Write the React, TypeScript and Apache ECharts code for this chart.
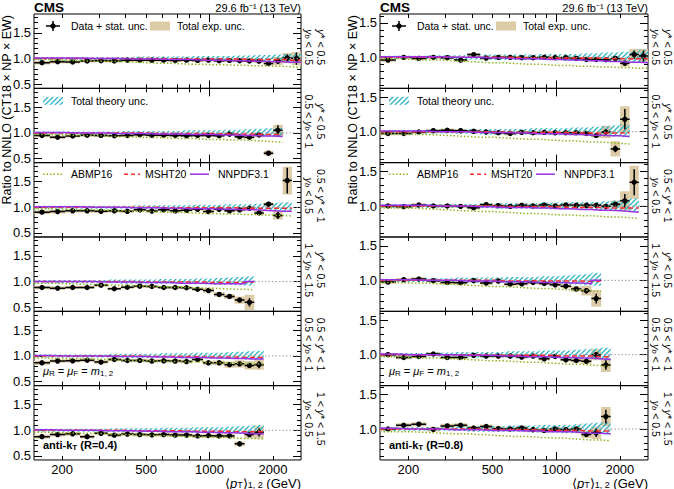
import React, { useEffect, useRef } from "react";
import * as echarts from "echarts";

// ---------------- data ----------------
const ptEdges = [147, 175, 207, 243, 284, 329, 380, 437, 499, 569, 646, 732, 827, 932, 1049, 1177, 1316, 1467, 1631, 1809, 2006, 2223, 2459, 2717];
const xTickLabels = [200, 500, 1000, 2000];
const xMajorTicks = [1000];
const xMinorTicks = [200, 300, 400, 500, 600, 700, 800, 900, 2000];
const yTickLabels = [0.5, 1.0, 1.5];
const yMinorTicks = [0.5, 0.6, 0.7, 0.8, 0.9, 1.0, 1.1, 1.2, 1.3, 1.4, 1.5, 1.6, 1.7, 1.8];
const yRangeR04 = [0.42, 1.87];
const yRangeR08 = [0.55, 1.63];
const refLevel = 1;

// panels: 0-5 anti-kT R=0.4 (left), 6-11 R=0.8 (right)
const ratio = [
  [0.92, 0.94, 0.935, 0.955, 0.96, 0.955, 0.97, 0.97, 0.97, 0.97, 0.965, 0.97, 0.965, 0.97, 0.96, 0.965, 0.96, 0.955, 0.95, 0.905, 0.95, 1.01, 1.0],
  [0.95, 0.915, 0.94, 0.955, 0.95, 0.945, 0.95, 0.965, 0.955, 0.955, 0.95, 0.945, 0.95, 0.95, 0.945, 0.975, 0.925, 0.915, 0.96, 0.605, 1.05],
  [0.905, 0.915, 0.93, 0.93, 0.92, 0.93, 0.92, 0.95, 0.925, 0.95, 0.93, 0.94, 0.96, 0.915, 0.96, 0.93, 0.95, 0.98, 0.89, 1.06, 0.84, 1.52],
  [0.885, 0.87, 0.885, 0.885, 0.93, 0.86, 0.89, 0.91, 0.905, 0.885, 0.885, 0.88, 0.85, 0.825, 0.75, 0.71, 0.64, 0.595],
  [0.865, 0.9, 0.905, 0.915, 0.88, 0.93, 0.91, 0.91, 0.9, 0.905, 0.9, 0.89, 0.93, 0.865, 0.865, 0.83, 0.845, 0.815, 0.83],
  [0.875, 0.915, 0.93, 0.875, 0.94, 0.905, 0.925, 0.915, 0.91, 0.915, 0.905, 0.905, 0.89, 0.895, 0.89, 0.89, 0.735, 0.915, 0.96],
  [0.96, 1.0, 0.985, 1.0, 0.995, 0.96, 1.04, 0.99, 1.0, 1.0, 0.995, 0.995, 1.0, 0.995, 0.995, 0.985, 0.97, 0.97, 0.965, 0.985, 0.915, 1.04, 1.02],
  [0.975, 0.975, 0.995, 1.015, 1.02, 1.015, 1.005, 0.995, 0.985, 0.975, 0.99, 0.985, 0.99, 0.985, 0.985, 0.985, 0.975, 0.945, 0.995, 0.75, 1.18],
  [1.0, 0.99, 1.015, 1.0, 1.0, 0.995, 0.975, 1.02, 1.005, 0.995, 1.01, 1.0, 1.015, 1.0, 1.015, 1.01, 1.01, 1.01, 0.995, 1.025, 1.075, 1.345],
  [0.975, 1.01, 1.02, 0.995, 0.97, 0.965, 0.995, 0.96, 0.99, 0.945, 0.95, 0.97, 0.955, 0.935, 0.915, 0.875, 0.85, 0.735],
  [1.0, 0.96, 0.975, 1.01, 0.96, 0.96, 0.99, 0.98, 0.98, 0.98, 0.965, 0.98, 0.94, 0.975, 0.925, 0.915, 0.905, 1.0, 0.85],
  [1.0, 1.055, 1.07, 0.995, 1.045, 1.055, 1.015, 1.035, 1.005, 1.0, 1.015, 0.99, 0.98, 1.0, 0.99, 1.0, 0.92, 0.945, 1.18],
];

const statUnc = [
  [0.005, 0.005, 0.005, 0.005, 0.005, 0.005, 0.005, 0.005, 0.005, 0.005, 0.005, 0.005, 0.005, 0.005, 0.006, 0.007, 0.008, 0.01, 0.012, 0.018, 0.05, 0.07, 0.12],
  [0.005, 0.005, 0.005, 0.005, 0.005, 0.005, 0.005, 0.005, 0.005, 0.005, 0.005, 0.005, 0.005, 0.006, 0.007, 0.008, 0.01, 0.012, 0.025, 0.03, 0.1],
  [0.005, 0.005, 0.005, 0.005, 0.005, 0.005, 0.005, 0.005, 0.005, 0.005, 0.005, 0.005, 0.005, 0.005, 0.005, 0.007, 0.009, 0.012, 0.015, 0.03, 0.07, 0.25],
  [0.005, 0.005, 0.005, 0.005, 0.005, 0.005, 0.005, 0.005, 0.005, 0.005, 0.005, 0.005, 0.006, 0.008, 0.012, 0.02, 0.04, 0.08],
  [0.005, 0.005, 0.005, 0.005, 0.005, 0.005, 0.005, 0.005, 0.005, 0.005, 0.005, 0.005, 0.005, 0.007, 0.01, 0.015, 0.02, 0.035, 0.07],
  [0.005, 0.005, 0.005, 0.005, 0.005, 0.005, 0.005, 0.005, 0.005, 0.005, 0.005, 0.005, 0.005, 0.007, 0.01, 0.012, 0.015, 0.04, 0.08],
  [0.005, 0.005, 0.005, 0.005, 0.005, 0.005, 0.005, 0.005, 0.005, 0.005, 0.005, 0.005, 0.005, 0.005, 0.005, 0.005, 0.005, 0.007, 0.01, 0.012, 0.03, 0.06, 0.08],
  [0.005, 0.005, 0.005, 0.005, 0.005, 0.005, 0.005, 0.005, 0.005, 0.005, 0.005, 0.005, 0.005, 0.005, 0.005, 0.007, 0.01, 0.012, 0.03, 0.05, 0.15],
  [0.005, 0.005, 0.005, 0.005, 0.005, 0.005, 0.005, 0.005, 0.005, 0.005, 0.005, 0.005, 0.005, 0.005, 0.005, 0.005, 0.007, 0.008, 0.01, 0.03, 0.1, 0.19],
  [0.005, 0.005, 0.005, 0.005, 0.005, 0.005, 0.005, 0.005, 0.005, 0.005, 0.005, 0.005, 0.006, 0.008, 0.01, 0.015, 0.04, 0.07],
  [0.005, 0.005, 0.005, 0.005, 0.005, 0.005, 0.005, 0.005, 0.005, 0.005, 0.005, 0.005, 0.005, 0.006, 0.008, 0.01, 0.015, 0.04, 0.07],
  [0.005, 0.005, 0.005, 0.005, 0.005, 0.005, 0.005, 0.005, 0.005, 0.005, 0.005, 0.005, 0.005, 0.007, 0.01, 0.015, 0.02, 0.06, 0.1],
];

const expUnc = [
  [0.035, 0.035, 0.03, 0.03, 0.03, 0.03, 0.03, 0.03, 0.03, 0.03, 0.03, 0.03, 0.03, 0.03, 0.03, 0.03, 0.03, 0.032, 0.035, 0.04, 0.08, 0.1, 0.13],
  [0.035, 0.035, 0.03, 0.03, 0.03, 0.03, 0.03, 0.03, 0.03, 0.03, 0.03, 0.03, 0.03, 0.03, 0.03, 0.032, 0.035, 0.035, 0.045, 0.045, 0.11],
  [0.035, 0.035, 0.03, 0.03, 0.03, 0.03, 0.03, 0.03, 0.03, 0.03, 0.03, 0.03, 0.03, 0.03, 0.03, 0.03, 0.032, 0.035, 0.035, 0.04, 0.08, 0.27],
  [0.035, 0.035, 0.03, 0.03, 0.03, 0.03, 0.03, 0.03, 0.03, 0.03, 0.03, 0.03, 0.035, 0.04, 0.045, 0.05, 0.07, 0.15],
  [0.04, 0.035, 0.035, 0.035, 0.035, 0.035, 0.035, 0.035, 0.035, 0.035, 0.035, 0.035, 0.035, 0.04, 0.045, 0.06, 0.07, 0.08, 0.1],
  [0.035, 0.035, 0.035, 0.035, 0.035, 0.035, 0.035, 0.035, 0.035, 0.035, 0.035, 0.035, 0.035, 0.035, 0.035, 0.04, 0.045, 0.07, 0.12],
  [0.025, 0.025, 0.025, 0.025, 0.025, 0.025, 0.025, 0.025, 0.025, 0.025, 0.025, 0.025, 0.025, 0.025, 0.025, 0.025, 0.025, 0.025, 0.025, 0.03, 0.05, 0.08, 0.1],
  [0.025, 0.025, 0.025, 0.025, 0.025, 0.025, 0.025, 0.025, 0.025, 0.025, 0.025, 0.025, 0.025, 0.025, 0.025, 0.025, 0.025, 0.03, 0.09, 0.11, 0.19],
  [0.025, 0.025, 0.025, 0.025, 0.025, 0.025, 0.025, 0.025, 0.025, 0.025, 0.025, 0.025, 0.025, 0.025, 0.025, 0.025, 0.025, 0.025, 0.03, 0.05, 0.14, 0.24],
  [0.025, 0.025, 0.025, 0.025, 0.025, 0.025, 0.025, 0.025, 0.025, 0.025, 0.025, 0.025, 0.025, 0.025, 0.03, 0.04, 0.07, 0.12],
  [0.025, 0.025, 0.025, 0.025, 0.025, 0.025, 0.025, 0.025, 0.025, 0.025, 0.025, 0.025, 0.025, 0.025, 0.025, 0.03, 0.04, 0.08, 0.1],
  [0.03, 0.03, 0.03, 0.03, 0.03, 0.03, 0.03, 0.03, 0.03, 0.03, 0.03, 0.03, 0.03, 0.03, 0.03, 0.035, 0.05, 0.09, 0.14],
];

const abmp16 = [
  [0.98, 0.97, 0.96, 0.95, 0.95, 0.94, 0.93, 0.92, 0.91, 0.91, 0.90, 0.89, 0.89, 0.88, 0.88, 0.87, 0.87, 0.86, 0.86, 0.85, 0.85, 0.84, 0.83],
  [0.97, 0.96, 0.95, 0.95, 0.94, 0.93, 0.92, 0.91, 0.91, 0.90, 0.89, 0.89, 0.88, 0.87, 0.87, 0.86, 0.86, 0.85, 0.84, 0.83, 0.82],
  [0.97, 0.96, 0.95, 0.95, 0.94, 0.93, 0.92, 0.92, 0.91, 0.90, 0.90, 0.89, 0.88, 0.88, 0.87, 0.87, 0.86, 0.86, 0.85, 0.85, 0.84, 0.83],
  [0.97, 0.96, 0.95, 0.94, 0.93, 0.93, 0.92, 0.91, 0.90, 0.89, 0.89, 0.88, 0.87, 0.87, 0.86, 0.85, 0.85, 0.84],
  [0.96, 0.95, 0.95, 0.94, 0.93, 0.92, 0.91, 0.91, 0.90, 0.89, 0.89, 0.88, 0.88, 0.87, 0.86, 0.86, 0.85, 0.85, 0.84],
  [0.96, 0.95, 0.94, 0.94, 0.93, 0.92, 0.91, 0.90, 0.90, 0.89, 0.88, 0.88, 0.87, 0.86, 0.86, 0.85, 0.84, 0.84, 0.83],
  [0.98, 0.97, 0.96, 0.96, 0.95, 0.94, 0.93, 0.92, 0.92, 0.91, 0.90, 0.90, 0.89, 0.88, 0.88, 0.87, 0.87, 0.86, 0.86, 0.85, 0.85, 0.84, 0.84],
  [0.97, 0.96, 0.96, 0.95, 0.94, 0.93, 0.92, 0.92, 0.91, 0.90, 0.89, 0.89, 0.88, 0.87, 0.87, 0.86, 0.85, 0.85, 0.84, 0.83, 0.82],
  [0.97, 0.97, 0.96, 0.95, 0.94, 0.93, 0.92, 0.92, 0.91, 0.90, 0.89, 0.89, 0.88, 0.87, 0.87, 0.86, 0.86, 0.85, 0.84, 0.84, 0.83, 0.82],
  [0.97, 0.96, 0.96, 0.95, 0.94, 0.93, 0.92, 0.91, 0.91, 0.90, 0.89, 0.88, 0.88, 0.87, 0.86, 0.86, 0.85, 0.84],
  [0.97, 0.96, 0.95, 0.95, 0.94, 0.93, 0.92, 0.91, 0.91, 0.90, 0.89, 0.89, 0.88, 0.87, 0.86, 0.86, 0.85, 0.84, 0.83],
  [0.96, 0.96, 0.95, 0.94, 0.93, 0.93, 0.92, 0.91, 0.90, 0.89, 0.89, 0.88, 0.87, 0.87, 0.86, 0.85, 0.84, 0.84, 0.83],
];

const msht20 = [
  [1.00, 1.00, 1.00, 1.00, 1.00, 1.00, 1.00, 1.00, 1.00, 0.99, 0.99, 0.99, 0.99, 0.99, 0.99, 0.99, 0.99, 0.98, 0.98, 0.98, 0.98, 0.97, 0.97],
  [1.00, 1.00, 1.00, 1.00, 1.00, 1.00, 1.00, 1.00, 0.99, 0.99, 0.99, 0.99, 0.99, 0.99, 0.98, 0.98, 0.98, 0.98, 0.97, 0.97, 0.97],
  [1.00, 1.00, 1.00, 1.00, 1.00, 1.00, 1.00, 1.00, 1.00, 0.99, 0.99, 0.99, 0.99, 0.99, 0.99, 0.99, 0.98, 0.98, 0.98, 0.98, 0.98, 0.98],
  [1.00, 1.00, 1.00, 1.00, 1.00, 1.00, 1.00, 0.99, 0.99, 0.99, 0.99, 0.99, 0.99, 0.98, 0.98, 0.98, 0.98, 0.99],
  [1.00, 1.00, 1.00, 1.00, 1.00, 1.00, 1.00, 0.99, 0.99, 0.99, 0.99, 0.99, 0.98, 0.98, 0.98, 0.98, 0.97, 0.97, 0.97],
  [1.00, 1.00, 1.00, 1.00, 1.00, 1.00, 0.99, 0.99, 0.99, 0.99, 0.99, 0.98, 0.98, 0.98, 0.98, 0.97, 0.97, 0.97, 0.97],
  [1.00, 1.00, 1.00, 1.00, 1.00, 1.00, 1.00, 1.00, 1.00, 1.00, 0.99, 0.99, 0.99, 0.99, 0.99, 0.99, 0.99, 0.99, 0.98, 0.98, 0.98, 0.98, 0.98],
  [1.00, 1.00, 1.00, 1.00, 1.00, 1.00, 1.00, 1.00, 1.00, 0.99, 0.99, 0.99, 0.99, 0.99, 0.99, 0.98, 0.98, 0.98, 0.98, 0.98, 0.98],
  [1.00, 1.00, 1.00, 1.00, 1.00, 1.00, 1.00, 1.00, 0.99, 0.99, 0.99, 0.99, 0.99, 0.99, 0.98, 0.98, 0.98, 0.98, 0.97, 0.97, 0.97, 0.97],
  [1.00, 1.00, 1.00, 1.00, 1.00, 1.00, 1.00, 1.00, 0.99, 0.99, 0.99, 0.99, 0.99, 0.99, 0.99, 0.99, 0.98, 0.99],
  [1.00, 1.00, 1.00, 1.00, 1.00, 1.00, 1.00, 0.99, 0.99, 0.99, 0.99, 0.99, 0.99, 0.98, 0.98, 0.98, 0.98, 0.97, 0.97],
  [1.00, 1.00, 1.00, 1.00, 1.00, 1.00, 1.00, 0.99, 0.99, 0.99, 0.99, 0.99, 0.98, 0.98, 0.98, 0.98, 0.97, 0.97, 0.97],
];

const nnpdf31 = [
  [1.01, 1.01, 1.01, 1.00, 1.00, 1.00, 0.99, 0.99, 0.99, 0.98, 0.98, 0.98, 0.97, 0.97, 0.97, 0.96, 0.96, 0.95, 0.95, 0.94, 0.94, 0.93, 0.93],
  [1.01, 1.01, 1.00, 1.00, 1.00, 0.99, 0.99, 0.99, 0.98, 0.98, 0.98, 0.97, 0.97, 0.97, 0.96, 0.96, 0.95, 0.95, 0.94, 0.94, 0.93],
  [1.01, 1.01, 1.01, 1.00, 1.00, 1.00, 0.99, 0.99, 0.99, 0.98, 0.98, 0.97, 0.97, 0.97, 0.96, 0.96, 0.95, 0.95, 0.94, 0.93, 0.92, 0.92],
  [1.00, 1.00, 1.00, 1.00, 0.99, 0.99, 0.99, 0.98, 0.98, 0.98, 0.97, 0.97, 0.97, 0.96, 0.96, 0.96, 0.96, 1.00],
  [1.01, 1.00, 1.00, 1.00, 1.00, 0.99, 0.99, 0.99, 0.98, 0.98, 0.97, 0.97, 0.97, 0.96, 0.96, 0.95, 0.95, 0.94, 0.94],
  [1.01, 1.00, 1.00, 1.00, 0.99, 0.99, 0.99, 0.98, 0.98, 0.97, 0.97, 0.97, 0.96, 0.96, 0.95, 0.95, 0.94, 0.93, 0.93],
  [1.01, 1.01, 1.01, 1.01, 1.00, 1.00, 1.00, 0.99, 0.99, 0.98, 0.98, 0.98, 0.97, 0.97, 0.96, 0.96, 0.95, 0.95, 0.94, 0.94, 0.93, 0.93, 0.92],
  [1.01, 1.01, 1.01, 1.00, 1.00, 1.00, 0.99, 0.99, 0.99, 0.98, 0.98, 0.97, 0.97, 0.97, 0.96, 0.96, 0.95, 0.95, 0.94, 0.94, 0.93],
  [1.01, 1.01, 1.01, 1.00, 1.00, 1.00, 0.99, 0.99, 0.98, 0.98, 0.98, 0.97, 0.97, 0.96, 0.96, 0.95, 0.95, 0.94, 0.94, 0.93, 0.92, 0.91],
  [1.01, 1.01, 1.00, 1.00, 1.00, 0.99, 0.99, 0.99, 0.98, 0.98, 0.98, 0.97, 0.97, 0.97, 0.96, 0.96, 0.95, 1.00],
  [1.01, 1.00, 1.00, 1.00, 1.00, 0.99, 0.99, 0.99, 0.98, 0.98, 0.97, 0.97, 0.97, 0.96, 0.96, 0.95, 0.95, 0.94, 0.93],
  [1.01, 1.00, 1.00, 1.00, 0.99, 0.99, 0.99, 0.98, 0.98, 0.98, 0.97, 0.97, 0.96, 0.96, 0.96, 0.95, 0.94, 0.94, 0.93],
];

const theoryLo = [
  [0.97, 0.97, 0.97, 0.97, 0.97, 0.97, 0.97, 0.97, 0.96, 0.96, 0.96, 0.96, 0.96, 0.96, 0.95, 0.95, 0.95, 0.95, 0.94, 0.94, 0.94, 0.93, 0.93],
  [0.97, 0.97, 0.97, 0.97, 0.97, 0.97, 0.97, 0.96, 0.96, 0.96, 0.96, 0.96, 0.96, 0.95, 0.95, 0.95, 0.95, 0.94, 0.94, 0.93, 0.92],
  [0.97, 0.97, 0.97, 0.97, 0.97, 0.97, 0.97, 0.97, 0.96, 0.96, 0.96, 0.96, 0.96, 0.95, 0.95, 0.95, 0.95, 0.94, 0.94, 0.94, 0.93, 0.92],
  [0.97, 0.97, 0.97, 0.97, 0.97, 0.97, 0.96, 0.96, 0.96, 0.96, 0.96, 0.95, 0.95, 0.95, 0.94, 0.94, 0.93, 0.92],
  [0.97, 0.97, 0.97, 0.97, 0.97, 0.97, 0.96, 0.96, 0.96, 0.96, 0.96, 0.95, 0.95, 0.95, 0.94, 0.94, 0.94, 0.93, 0.92],
  [0.97, 0.97, 0.97, 0.97, 0.97, 0.97, 0.96, 0.96, 0.96, 0.96, 0.96, 0.95, 0.95, 0.95, 0.94, 0.94, 0.94, 0.93, 0.92],
  [0.975, 0.975, 0.975, 0.975, 0.975, 0.97, 0.97, 0.97, 0.96, 0.96, 0.96, 0.96, 0.96, 0.96, 0.95, 0.95, 0.95, 0.95, 0.94, 0.94, 0.94, 0.93, 0.93],
  [0.975, 0.975, 0.975, 0.975, 0.975, 0.97, 0.97, 0.96, 0.96, 0.96, 0.96, 0.96, 0.96, 0.95, 0.95, 0.95, 0.95, 0.94, 0.94, 0.93, 0.92],
  [0.975, 0.975, 0.975, 0.975, 0.975, 0.97, 0.97, 0.97, 0.96, 0.96, 0.96, 0.96, 0.96, 0.95, 0.95, 0.95, 0.95, 0.94, 0.94, 0.94, 0.93, 0.92],
  [0.975, 0.975, 0.975, 0.975, 0.975, 0.97, 0.96, 0.96, 0.96, 0.96, 0.96, 0.95, 0.95, 0.95, 0.94, 0.94, 0.93, 0.92],
  [0.975, 0.975, 0.975, 0.975, 0.975, 0.97, 0.96, 0.96, 0.96, 0.96, 0.96, 0.95, 0.95, 0.95, 0.94, 0.94, 0.94, 0.93, 0.92],
  [0.975, 0.975, 0.975, 0.975, 0.975, 0.97, 0.96, 0.96, 0.96, 0.96, 0.96, 0.95, 0.95, 0.95, 0.94, 0.94, 0.94, 0.93, 0.92],
];

const theoryHi = [
  [1.03, 1.03, 1.03, 1.03, 1.03, 1.03, 1.03, 1.04, 1.04, 1.04, 1.04, 1.04, 1.05, 1.05, 1.05, 1.05, 1.06, 1.06, 1.07, 1.07, 1.08, 1.09, 1.10],
  [1.03, 1.03, 1.03, 1.03, 1.03, 1.03, 1.04, 1.04, 1.04, 1.04, 1.04, 1.05, 1.05, 1.05, 1.05, 1.06, 1.06, 1.07, 1.08, 1.09, 1.10],
  [1.03, 1.03, 1.03, 1.03, 1.03, 1.03, 1.03, 1.04, 1.04, 1.04, 1.04, 1.04, 1.05, 1.05, 1.05, 1.06, 1.06, 1.06, 1.07, 1.08, 1.09, 1.10],
  [1.03, 1.03, 1.03, 1.03, 1.03, 1.04, 1.04, 1.04, 1.04, 1.05, 1.05, 1.05, 1.06, 1.06, 1.07, 1.08, 1.09, 1.10],
  [1.03, 1.03, 1.03, 1.03, 1.03, 1.04, 1.04, 1.04, 1.04, 1.05, 1.05, 1.05, 1.06, 1.06, 1.06, 1.07, 1.08, 1.09, 1.10],
  [1.03, 1.03, 1.03, 1.03, 1.03, 1.04, 1.04, 1.04, 1.04, 1.05, 1.05, 1.05, 1.06, 1.06, 1.06, 1.07, 1.08, 1.09, 1.10],
  [1.025, 1.025, 1.025, 1.03, 1.03, 1.03, 1.03, 1.04, 1.04, 1.04, 1.04, 1.04, 1.05, 1.05, 1.05, 1.05, 1.06, 1.06, 1.07, 1.07, 1.08, 1.09, 1.11],
  [1.025, 1.025, 1.025, 1.03, 1.03, 1.03, 1.04, 1.04, 1.04, 1.04, 1.04, 1.05, 1.05, 1.05, 1.05, 1.06, 1.06, 1.07, 1.08, 1.09, 1.11],
  [1.025, 1.025, 1.025, 1.03, 1.03, 1.03, 1.03, 1.04, 1.04, 1.04, 1.04, 1.04, 1.05, 1.05, 1.05, 1.06, 1.06, 1.06, 1.07, 1.08, 1.09, 1.11],
  [1.025, 1.025, 1.025, 1.03, 1.03, 1.04, 1.04, 1.04, 1.04, 1.05, 1.05, 1.05, 1.06, 1.06, 1.07, 1.08, 1.09, 1.11],
  [1.025, 1.025, 1.025, 1.03, 1.03, 1.04, 1.04, 1.04, 1.04, 1.05, 1.05, 1.05, 1.06, 1.06, 1.06, 1.07, 1.08, 1.09, 1.10],
  [1.025, 1.025, 1.025, 1.03, 1.03, 1.04, 1.04, 1.04, 1.04, 1.05, 1.05, 1.05, 1.06, 1.06, 1.06, 1.07, 1.08, 1.09, 1.10],
];

const rapidityLabels = [
  ["{i|y}* < 0.5", "{i|y}{s|b} < 0.5"],
  ["{i|y}* < 0.5", "0.5 < {i|y}{s|b} < 1"],
  ["0.5 < {i|y}* < 1", "{i|y}{s|b} < 0.5"],
  ["{i|y}* < 0.5", "1 < {i|y}{s|b} < 1.5"],
  ["0.5 < {i|y}* < 1", "0.5 < {i|y}{s|b} < 1"],
  ["1 < {i|y}* < 1.5", "{i|y}{s|b} < 0.5"],
];
const jetLabels = ["anti-k{s|T} (R=0.4)", "anti-k{s|T} (R=0.8)"];

// ---------------- style / layout ----------------
const FONT = '"Liberation Sans", Arial, Helvetica, sans-serif';
const C_ABMP = "#8fb41c";
const C_MSHT = "#ff2e2e";
const C_NNPDF = "#9a32e0";
const C_EXP = "#dccba6";
const C_HATCH = "#2fb3c6";
const COLS = [
  { left: 34, width: 267 },
  { left: 380, width: 268 },
];
const TOP = 14;
const PH = 74.33;

const lg = (v: number) => Math.log10(v);

function makeHatch(): any {
  const s = 5;
  const cv = document.createElement("canvas");
  cv.width = s;
  cv.height = s;
  const ctx = cv.getContext("2d")!;
  ctx.strokeStyle = C_HATCH;
  ctx.lineWidth = 1.3;
  ctx.beginPath();
  ctx.moveTo(0, s);
  ctx.lineTo(s, 0);
  ctx.moveTo(-s / 2, s / 2);
  ctx.lineTo(s / 2, -s / 2);
  ctx.moveTo(s / 2, s * 1.5);
  ctx.lineTo(s * 1.5, s / 2);
  ctx.stroke();
  return { image: cv.toDataURL(), repeat: "repeat", imageWidth: s, imageHeight: s };
}

function stepData(vals: number[]) {
  const n = vals.length;
  const out: number[][] = [];
  for (let i = 0; i <= n; i++) out.push([lg(ptEdges[i]), vals[Math.min(i, n - 1)]]);
  return out;
}

function buildOption() {
  const hatch = makeHatch();
  const xMin = lg(ptEdges[0]);
  const xMax = lg(ptEdges[ptEdges.length - 1]);
  const grid: any[] = [];
  const xAxis: any[] = [];
  const yAxis: any[] = [];
  const series: any[] = [];
  const graphic: any[] = [];
  const tickStyle = { color: "#000", width: 1 };

  for (let c = 0; c < 2; c++) {
    const col = COLS[c];
    const yr = c === 0 ? yRangeR04 : yRangeR08;
    for (let r = 0; r < 6; r++) {
      const p = c * 6 + r;
      const g = grid.length;
      const top = TOP + r * PH;
      grid.push({
        left: col.left, top, width: col.width, height: PH,
        show: true, borderColor: "#000", borderWidth: 1, backgroundColor: "transparent",
      });
      const isBottom = r === 5;
      const xb = { type: "value", gridIndex: g, min: xMin, max: xMax, axisLine: { show: false, onZero: false }, splitLine: { show: false } };
      xAxis.push({
        ...xb, position: "bottom",
        axisTick: { show: true, inside: true, length: 4, customValues: xMinorTicks.map(lg), lineStyle: tickStyle },
        axisLabel: isBottom
          ? { show: true, customValues: xTickLabels.map(lg), formatter: (v: number) => String(Math.round(Math.pow(10, v))), color: "#000", fontSize: 13, fontFamily: FONT, margin: 3, lineHeight: 13 }
          : { show: false },
      });
      xAxis.push({ ...xb, position: "bottom", axisTick: { show: true, inside: true, length: 8, customValues: xMajorTicks.map(lg), lineStyle: tickStyle }, axisLabel: { show: false } });
      xAxis.push({ ...xb, position: "top", axisTick: { show: true, inside: true, length: 4, customValues: xMinorTicks.map(lg), lineStyle: tickStyle }, axisLabel: { show: false } });
      xAxis.push({ ...xb, position: "top", axisTick: { show: true, inside: true, length: 8, customValues: xMajorTicks.map(lg), lineStyle: tickStyle }, axisLabel: { show: false } });

      const yb = { type: "value", gridIndex: g, min: yr[0], max: yr[1], axisLine: { show: false, onZero: false }, splitLine: { show: false } };
      yAxis.push({ ...yb, position: "left", axisTick: { show: true, inside: true, length: 4, customValues: yMinorTicks, lineStyle: tickStyle }, axisLabel: { show: false } });
      yAxis.push({
        ...yb, position: "left",
        axisTick: { show: true, inside: true, length: 8, customValues: yTickLabels, lineStyle: tickStyle },
        axisLabel: { show: true, customValues: yTickLabels, formatter: (v: number) => v.toFixed(1), color: "#000", fontSize: 13, fontFamily: FONT, margin: 3 },
      });
      yAxis.push({ ...yb, position: "right", axisTick: { show: true, inside: true, length: 4, customValues: yMinorTicks, lineStyle: tickStyle }, axisLabel: { show: false } });
      yAxis.push({ ...yb, position: "right", axisTick: { show: true, inside: true, length: 8, customValues: yTickLabels, lineStyle: tickStyle }, axisLabel: { show: false } });

      const xi = 4 * g;
      const yi = 4 * g;
      const vals = ratio[p];

      // reference line at 1
      series.push({
        type: "line", xAxisIndex: xi, yAxisIndex: yi, silent: true, symbol: "none",
        data: [[xMin, refLevel], [xMax, refLevel]],
        lineStyle: { color: "#9a9a9a", width: 1, type: [1.5, 2] },
      });
      // exp unc boxes
      series.push({
        type: "custom", xAxisIndex: xi, yAxisIndex: yi, silent: true, clip: true,
        encode: { x: [0, 1], y: [2, 3] },
        data: vals.map((v, i) => [lg(ptEdges[i]), lg(ptEdges[i + 1]), v - expUnc[p][i], v + expUnc[p][i]]),
        renderItem: (_: any, api: any) => {
          const a = api.coord([api.value(0), api.value(3)]);
          const b = api.coord([api.value(1), api.value(2)]);
          return { type: "rect", shape: { x: a[0], y: a[1], width: b[0] - a[0], height: b[1] - a[1] }, style: { fill: C_EXP } };
        },
      });
      // theory band
      series.push({
        type: "custom", xAxisIndex: xi, yAxisIndex: yi, silent: true, clip: true,
        encode: { x: [0, 1], y: [2, 3] },
        data: theoryLo[p].map((lo, i) => [lg(ptEdges[i]), lg(ptEdges[i + 1]), lo, theoryHi[p][i]]),
        renderItem: (_: any, api: any) => {
          const a = api.coord([api.value(0), api.value(3)]);
          const b = api.coord([api.value(1), api.value(2)]);
          return { type: "rect", shape: { x: a[0], y: a[1], width: b[0] - a[0], height: b[1] - a[1] }, style: { fill: hatch } };
        },
      });
      // PDF lines
      series.push({ type: "line", xAxisIndex: xi, yAxisIndex: yi, silent: true, symbol: "none", step: "end", data: stepData(abmp16[p]), lineStyle: { color: C_ABMP, width: 1.5, type: [1.5, 2] } });
      series.push({ type: "line", xAxisIndex: xi, yAxisIndex: yi, silent: true, symbol: "none", step: "end", data: stepData(msht20[p]), lineStyle: { color: C_MSHT, width: 1.5, type: [5, 3] } });
      series.push({ type: "line", xAxisIndex: xi, yAxisIndex: yi, silent: true, symbol: "none", step: "end", data: stepData(nnpdf31[p]), lineStyle: { color: C_NNPDF, width: 1.5 } });
      // data points
      series.push({
        type: "custom", xAxisIndex: xi, yAxisIndex: yi, silent: true, clip: true,
        encode: { x: [0, 1, 2], y: [3] },
        data: vals.map((v, i) => {
          const x0 = lg(ptEdges[i]);
          const x1 = lg(ptEdges[i + 1]);
          return [x0, x1, (x0 + x1) / 2, v, statUnc[p][i]];
        }),
        renderItem: (_: any, api: any) => {
          const v = api.value(3);
          const s = api.value(4);
          const a = api.coord([api.value(0), v]);
          const b = api.coord([api.value(1), v]);
          const m = api.coord([api.value(2), v]);
          const hi = api.coord([api.value(2), v + s]);
          const lo = api.coord([api.value(2), v - s]);
          return {
            type: "group",
            children: [
              { type: "line", shape: { x1: a[0], y1: a[1], x2: b[0], y2: b[1] }, style: { stroke: "#000", lineWidth: 1.5 } },
              { type: "line", shape: { x1: m[0], y1: hi[1], x2: m[0], y2: lo[1] }, style: { stroke: "#000", lineWidth: 1.5 } },
              { type: "circle", shape: { cx: m[0], cy: m[1], r: 2.7 }, style: { fill: "#000" } },
            ],
          };
        },
      });

      // rapidity label
      graphic.push({
        type: "text", x: col.left + col.width + 14, y: top + PH / 2 - 4, rotation: -Math.PI / 2, silent: true,
        style: {
          text: rapidityLabels[r][0] + "\n" + rapidityLabels[r][1],
          align: "center", verticalAlign: "middle", textAlign: "center", textVerticalAlign: "middle",
          fill: "#000", fontSize: 10.5, fontFamily: FONT, lineHeight: 12,
          rich: {
            i: { fontStyle: "italic", fontSize: 10.5, fontFamily: FONT, lineHeight: 12 },
            s: { fontStyle: "italic", fontSize: 7.5, fontFamily: FONT, lineHeight: 8, padding: [4, 0, 0, 0], verticalAlign: "bottom" },
          },
        },
      });
    }

    const L = col.left;
    const R = col.left + col.width;
    // CMS and lumi
    graphic.push({ type: "text", x: L, y: 7, silent: true, style: { text: "CMS", fill: "#000", fontSize: 13.5, fontWeight: "bold", fontFamily: FONT, align: "left", verticalAlign: "middle", textAlign: "left", textVerticalAlign: "middle" } });
    graphic.push({ type: "text", x: R, y: 8, silent: true, style: { text: "29.6 fb\u207B\u00B9 (13 TeV)", fill: "#000", fontSize: 11, fontFamily: FONT, align: "right", verticalAlign: "middle", textAlign: "right", textVerticalAlign: "middle" } });
    // y title
    graphic.push({
      type: "text", x: L - 27, y: TOP + 1, rotation: Math.PI / 2, silent: true,
      style: { text: "Ratio to NNLO (CT18 \u00D7 NP \u00D7 EW)", fill: "#000", fontSize: 12.5, fontFamily: FONT, align: "right", verticalAlign: "middle", textAlign: "right", textVerticalAlign: "middle" },
    });
    // x title
    graphic.push({
      type: "text", x: R, y: 483, silent: true,
      style: {
        text: "\u27E8{i|p}{s|T}\u27E9{s|1, 2} (GeV)", fill: "#000", fontSize: 13, fontFamily: FONT, align: "right", verticalAlign: "middle", textAlign: "right", textVerticalAlign: "middle", lineHeight: 12,
        rich: {
          i: { fontStyle: "italic", fontSize: 13, fontFamily: FONT, lineHeight: 12 },
          s: { fontSize: 9, fontFamily: FONT, lineHeight: 8, padding: [4, 0, 0, 0], verticalAlign: "bottom" },
        },
      },
    });
    // legend row 1 (panel 1)
    const ly1 = TOP + 12;
    graphic.push({ type: "line", silent: true, shape: { x1: L + 12, y1: ly1, x2: L + 26, y2: ly1 }, style: { stroke: "#000", lineWidth: 1.5 } });
    graphic.push({ type: "line", silent: true, shape: { x1: L + 19, y1: ly1 - 5, x2: L + 19, y2: ly1 + 5 }, style: { stroke: "#000", lineWidth: 1.5 } });
    graphic.push({ type: "circle", silent: true, shape: { cx: L + 19, cy: ly1, r: 2.7 }, style: { fill: "#000" } });
    graphic.push({ type: "text", x: L + 37, y: ly1, silent: true, style: { text: "Data + stat. unc.", fill: "#000", fontSize: 10.5, fontFamily: FONT, align: "left", verticalAlign: "middle", textAlign: "left", textVerticalAlign: "middle" } });
    graphic.push({ type: "rect", silent: true, shape: { x: L + 116, y: ly1 - 4.5, width: 20, height: 9 }, style: { fill: C_EXP } });
    graphic.push({ type: "text", x: L + 143, y: ly1, silent: true, style: { text: "Total exp. unc.", fill: "#000", fontSize: 10.5, fontFamily: FONT, align: "left", verticalAlign: "middle", textAlign: "left", textVerticalAlign: "middle" } });
    // legend panel 2
    const ly2 = TOP + PH + 12.5;
    graphic.push({ type: "rect", silent: true, shape: { x: L + 9, y: ly2 - 4, width: 20, height: 8 }, style: { fill: hatch } });
    graphic.push({ type: "text", x: L + 37, y: ly2, silent: true, style: { text: "Total theory unc.", fill: "#000", fontSize: 10.5, fontFamily: FONT, align: "left", verticalAlign: "middle", textAlign: "left", textVerticalAlign: "middle" } });
    // legend panel 3
    const ly3 = TOP + 2 * PH + 11.5;
    graphic.push({ type: "line", silent: true, shape: { x1: L + 9, y1: ly3, x2: L + 29, y2: ly3 }, style: { stroke: C_ABMP, lineWidth: 1.5, lineDash: [1.5, 2] } });
    graphic.push({ type: "text", x: L + 37, y: ly3, silent: true, style: { text: "ABMP16", fill: "#000", fontSize: 10.5, fontFamily: FONT, align: "left", verticalAlign: "middle", textAlign: "left", textVerticalAlign: "middle" } });
    graphic.push({ type: "line", silent: true, shape: { x1: L + 90, y1: ly3, x2: L + 106, y2: ly3 }, style: { stroke: C_MSHT, lineWidth: 1.5, lineDash: [4, 3] } });
    graphic.push({ type: "text", x: L + 111, y: ly3, silent: true, style: { text: "MSHT20", fill: "#000", fontSize: 10.5, fontFamily: FONT, align: "left", verticalAlign: "middle", textAlign: "left", textVerticalAlign: "middle" } });
    graphic.push({ type: "line", silent: true, shape: { x1: L + 156, y1: ly3, x2: L + 175, y2: ly3 }, style: { stroke: C_NNPDF, lineWidth: 1.5 } });
    graphic.push({ type: "text", x: L + 184, y: ly3, silent: true, style: { text: "NNPDF3.1", fill: "#000", fontSize: 10.5, fontFamily: FONT, align: "left", verticalAlign: "middle", textAlign: "left", textVerticalAlign: "middle" } });
    // scale text panel 5
    graphic.push({
      type: "text", x: L + 9, y: TOP + 4 * PH + 60, silent: true,
      style: {
        text: "{i|\u03BC}{s|R} = {i|\u03BC}{s|F} = {i|m}{s|1, 2}", fill: "#000", fontSize: 11, fontFamily: FONT, align: "left", verticalAlign: "middle", textAlign: "left", textVerticalAlign: "middle", lineHeight: 13,
        rich: {
          i: { fontStyle: "italic", fontSize: 11, fontFamily: FONT, lineHeight: 13 },
          s: { fontSize: 8, fontFamily: FONT, lineHeight: 8, padding: [4, 0, 0, 0], verticalAlign: "bottom" },
        },
      },
    });
    // jet label panel 6
    graphic.push({
      type: "text", x: L + 9, y: TOP + 5 * PH + 59, silent: true,
      style: {
        text: jetLabels[c], fill: "#000", fontSize: 11, fontWeight: "bold", fontFamily: FONT, align: "left", verticalAlign: "middle", textAlign: "left", textVerticalAlign: "middle", lineHeight: 13,
        rich: {
          s: { fontSize: 8, fontWeight: "bold", fontFamily: FONT, lineHeight: 8, padding: [4, 0, 0, 0], verticalAlign: "bottom" },
        },
      },
    });
  }

  return {
    animation: false,
    backgroundColor: "#fff",
    textStyle: { fontFamily: FONT },
    grid, xAxis, yAxis, series, graphic,
  };
}

export default function App() {
  const ref = useRef<HTMLDivElement>(null);
  useEffect(() => {
    if (!ref.current) return;
    const chart = echarts.init(ref.current, null, { renderer: "svg" });
    chart.setOption(buildOption() as any);
    return () => chart.dispose();
  }, []);
  return <div ref={ref} style={{ position: "fixed", left: 0, top: 0, width: 674, height: 489, background: "#fff" }} />;
}
